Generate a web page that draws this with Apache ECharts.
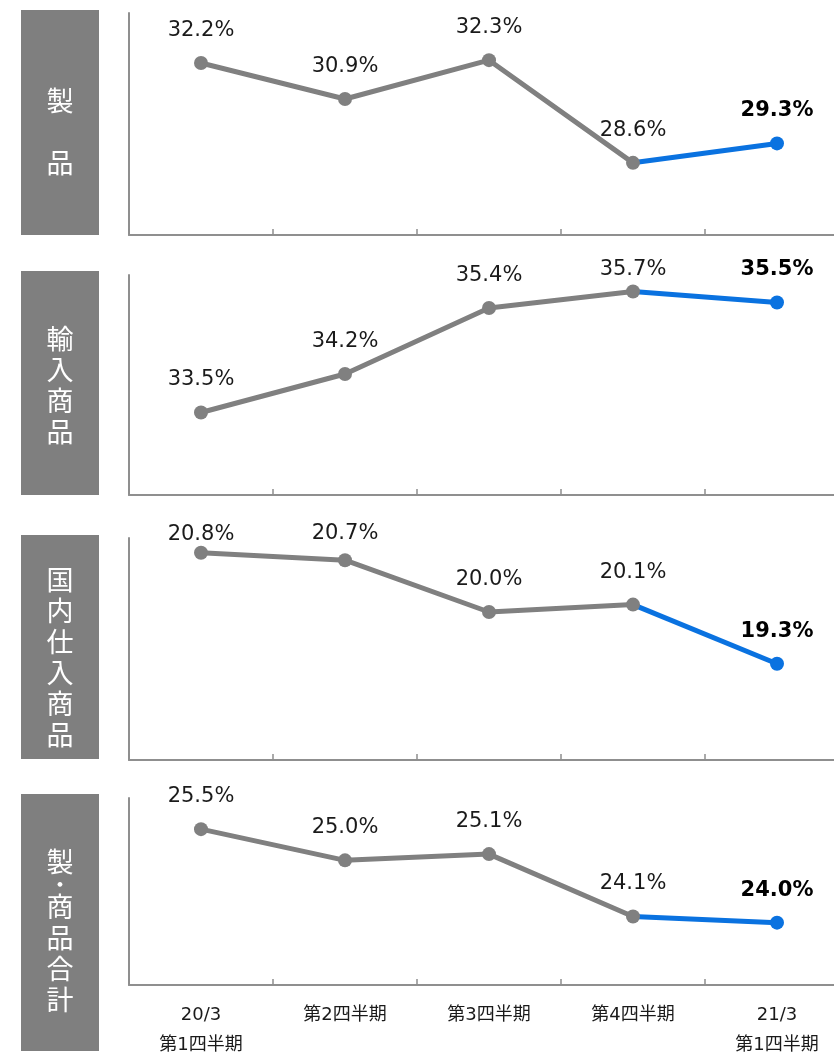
<!DOCTYPE html>
<html>
<head>
<meta charset="utf-8">
<script src="https://cdn.jsdelivr.net/npm/echarts@6/dist/echarts.min.js"></script>
<style>
  html, body { margin: 0; padding: 0; background: #fff; overflow: hidden; }
  #chart { width: 834px; height: 1055px; }
</style>
</head>
<body>
<div id="chart"></div>
<script>
// 四半期ごとの粗利率
const quarters = ['20/3\n第1四半期', '第2四半期', '第3四半期', '第4四半期', '21/3\n第1四半期'];
const panelTitles = ['製\n\n品', '輸\n入\n商\n品', '国\n内\n仕\n入\n商\n品', '製\n{dot|・}\n商\n品\n合\n計'];
const productRates = [32.2, 30.9, 32.3, 28.6, 29.3];
const importRates = [33.5, 34.2, 35.4, 35.7, 35.5];
const domesticRates = [20.8, 20.7, 20.0, 20.1, 19.3];
const totalRates = [25.5, 25.0, 25.1, 24.1, 24.0];
const yMins = [26, 32, 18, 23];
const yMaxs = [34, 36, 21, 26];

const panels = [productRates, importRates, domesticRates, totalRates];

// レイアウト
const gridTops = [13, 275, 538, 798];
const gridHeights = [222, 220, 222, 187];
const boxTops = [10, 271, 535, 794];
const boxBottoms = [235, 495, 759, 1051];
const titleShift = [9, 2, 10, 8];
// ラベルを上端に寄せた点 (panel-index: 下げるpx)
const labelNudge = { '1-3': 11, '2-0': 14, '2-1': 6 };

const GREY = '#808080';
const BLUE = '#0A72E0';
const AXIS = '#8f8f8f';
const FONT = "'DejaVu Sans', 'Noto Sans CJK JP', sans-serif";

const chart = echarts.init(document.getElementById('chart'));

const grid = panels.map((_, i) => ({
  left: 129, width: 720, top: gridTops[i], height: gridHeights[i],
  outerBoundsMode: 'none', containLabel: false
}));

const xAxis = panels.map((_, i) => ({
  type: 'category',
  gridIndex: i,
  data: quarters,
  boundaryGap: true,
  axisLine: { lineStyle: { color: AXIS, width: 2 } },
  axisTick: { show: true, inside: true, length: 6, lineStyle: { color: AXIS, width: 1.5 } },
  axisLabel: {
    show: i === panels.length - 1,
    interval: 0,
    color: '#1a1a1a',
    fontSize: 18,
    fontFamily: FONT,
    lineHeight: 30,
    margin: 15
  }
}));

const yAxis = panels.map((_, i) => ({
  type: 'value',
  gridIndex: i,
  min: yMins[i],
  max: yMaxs[i],
  axisLine: { show: true, lineStyle: { color: AXIS, width: 2 } },
  axisTick: { show: false },
  axisLabel: { show: false },
  splitLine: { show: false }
}));

const pct = (p) => p.value.toFixed(1) + '%';

const series = [];
panels.forEach((rates, i) => {
  const last = rates.length - 1;
  // 直近の四半期は青
  series.push({
    type: 'line',
    xAxisIndex: i,
    yAxisIndex: i,
    z: 2,
    symbol: 'circle',
    symbolSize: 14,
    lineStyle: { color: BLUE, width: 5 },
    itemStyle: { color: BLUE },
    label: {
      show: true,
      position: 'top',
      distance: 15,
      color: '#000',
      fontWeight: 'bold',
      fontSize: 21,
      fontFamily: FONT,
      formatter: pct
    },
    data: rates.map((v, j) => {
      if (j < last - 1) return '-';
      if (j === last - 1) return { value: v, symbol: 'none', label: { show: false } };
      return v;
    })
  });
  series.push({
    type: 'line',
    xAxisIndex: i,
    yAxisIndex: i,
    z: 3,
    symbol: 'circle',
    symbolSize: 14,
    lineStyle: { color: GREY, width: 5 },
    itemStyle: { color: GREY },
    label: {
      show: true,
      position: 'top',
      distance: 15,
      color: '#1a1a1a',
      fontSize: 21,
      fontFamily: FONT,
      formatter: pct
    },
    data: rates.slice(0, last).map((v, j) => {
      const nudge = labelNudge[i + '-' + j];
      return nudge ? { value: v, label: { offset: [0, nudge] } } : v;
    })
  });
});

const graphic = [];
panelTitles.forEach((title, i) => {
  const h = boxBottoms[i] - boxTops[i];
  graphic.push({
    type: 'rect',
    left: 21, top: boxTops[i],
    shape: { width: 78, height: h },
    style: { fill: '#7f7f7f' },
    silent: true
  });
  graphic.push({
    type: 'text',
    x: 60, y: boxTops[i] + h / 2 + titleShift[i],
    style: {
      text: title,
      fill: '#fff',
      font: "27px 'Noto Sans CJK JP', sans-serif",
      lineHeight: 31,
      align: 'center',
      verticalAlign: 'middle',
      rich: { dot: { fill: '#fff', fontSize: 22, lineHeight: 14, fontFamily: 'Noto Sans CJK JP' } }
    },
    silent: true
  });
});

chart.setOption({
  backgroundColor: '#fff',
  animation: false,
  grid,
  xAxis,
  yAxis,
  series,
  graphic
});
window.addEventListener('resize', () => chart.resize());
</script>
</body>
</html>
